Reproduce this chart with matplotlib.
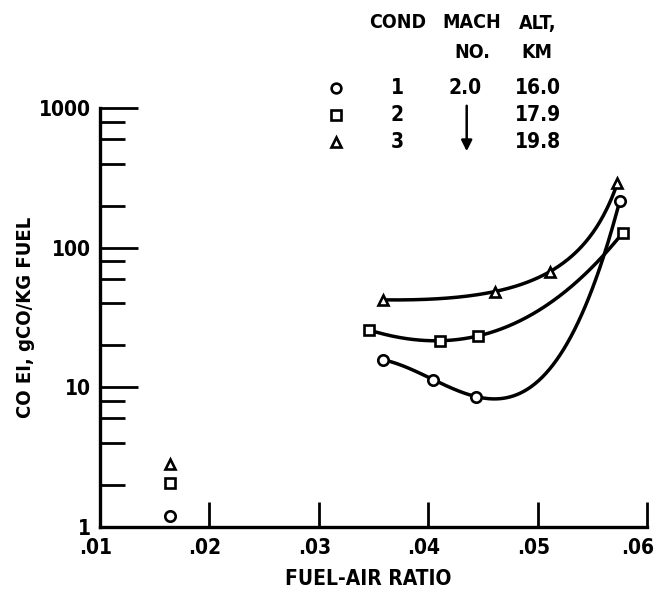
import numpy as np
import matplotlib
matplotlib.use("Agg")
import matplotlib.pyplot as plt
from matplotlib.transforms import ScaledTranslation
from matplotlib.ticker import FixedLocator, FixedFormatter

plt.rcParams['font.family'] = ['DejaVu Sans']
plt.rcParams['font.weight'] = 'bold'
plt.rcParams['font.stretch'] = 'condensed'
plt.rcParams['axes.labelweight'] = 'bold'

# fuel-air ratio and CO EI for each condition
far_1 = [0.0359, 0.0405, 0.0444, 0.0575]
co_1 = [15.7, 11.3, 8.55, 214]
far_2 = [0.0346, 0.0411, 0.0446, 0.0578]
co_2 = [25.7, 21.5, 23.3, 128]
far_3 = [0.0359, 0.0461, 0.0511, 0.0573]
co_3 = [42.2, 48.4, 67, 290]

# lone low fuel-air points
far_low = [0.0164, 0.0164, 0.0164]
co_low = [1.19, 2.07, 2.81]

cond = ['1', '2', '3']
mach = ['2.0']
alt = ['16.0', '17.9', '19.8']
markers = ['o', 's', '^']

x_ticks = [0.01, 0.02, 0.03, 0.04, 0.05, 0.06]
x_labels = ['.01', '.02', '.03', '.04', '.05', '.06']
y_ticks = [1, 10, 100, 1000]
y_labels = ['1', '10', '100', '1000']
y_minor = [2, 4, 6, 8, 20, 40, 60, 80, 200, 400, 600, 800]

W, H = 656, 589
fig = plt.figure(figsize=(W / 100, H / 100), dpi=100)
ax = fig.add_axes([99.5 / W, 1 - 526.7 / H, (647 - 99.5) / W, (526.7 - 108) / H])

mk = dict(mfc='white', mec='black', mew=1.9, ms=7.5, color='black')

# the 3rd curve is faired against a stretched x so it stays smooth
stretch = [False, False, True]

for far, co, m, st in zip([far_1, far_2, far_3], [co_1, co_2, co_3], markers, stretch):
    far = np.array(far)
    xx = np.linspace(far[0], far[-1], 200)
    if st:
        u, uu = -np.log(0.061 - far), -np.log(0.061 - xx)
    else:
        u, uu = far, xx
    c = np.polyfit(u, np.log10(co), 3)
    ax.plot(xx, 10 ** np.polyval(c, uu), color='black', lw=2.5, zorder=2)
    ax.plot(far, co, ls='none', marker=m, zorder=3, **mk)

for x, y, m in zip(far_low, co_low, markers):
    ax.plot([x], [y], ls='none', marker=m, zorder=3, clip_on=False, **mk)

ax.set_yscale('log')
ax.set_xlim(0.01, 0.06)
ax.set_ylim(1, 1000)

ax.xaxis.set_major_locator(FixedLocator(x_ticks))
ax.xaxis.set_major_formatter(FixedFormatter(x_labels))
ax.yaxis.set_major_locator(FixedLocator(y_ticks))
ax.yaxis.set_major_formatter(FixedFormatter(y_labels))
ax.yaxis.set_minor_locator(FixedLocator(y_minor))
ax.yaxis.set_minor_formatter(FixedFormatter([]))
ax.xaxis.set_minor_locator(FixedLocator([]))

ax.tick_params(axis='y', which='major', direction='in', length=27, width=2,
               labelsize=15, pad=6)
ax.tick_params(axis='y', which='minor', direction='in', length=18, width=2)
ax.tick_params(axis='x', which='major', direction='in', length=18, width=2,
               labelsize=15, pad=8)

for s in ['top', 'right']:
    ax.spines[s].set_visible(False)
for s in ['left', 'bottom']:
    ax.spines[s].set_linewidth(2.4)

ax.set_xlabel('FUEL-AIR RATIO', fontsize=15, va='center')
ax.xaxis.set_label_coords(0.49, -0.125)
ax.set_ylabel('CO EI, gCO/KG FUEL', fontsize=14.5, va='center')
ax.yaxis.set_label_coords(-0.136, 0.5)

# x tick labels sit a little left of their ticks
for i, tk in enumerate(ax.xaxis.get_major_ticks()):
    dx = -0.09 if i == len(x_ticks) - 1 else -0.04
    tk.label1.set_transform(tk.label1.get_transform() +
                            ScaledTranslation(dx, 0, fig.dpi_scale_trans))


def fx(px):
    return px / W


def fy(py):
    return 1 - py / H


# legend table
hdr = dict(fontsize=14, ha='center', va='center')
fig.text(fx(398), fy(23), 'COND', **hdr)
fig.text(fx(472), fy(23), 'MACH', **hdr)
fig.text(fx(538), fy(23), 'ALT,', **hdr)
fig.text(fx(472), fy(52), 'NO.', **hdr)
fig.text(fx(537), fy(52), 'KM', **hdr)

rows_y = [88, 115, 142]
for i, (py, m) in enumerate(zip(rows_y, markers)):
    fig.lines.append(plt.Line2D([fx(336)], [fy(py)], transform=fig.transFigure,
                                marker=m, ls='none', mfc='white', mec='black',
                                mew=1.9, ms=7))
    fig.text(fx(397), fy(py), cond[i], fontsize=15, ha='center', va='center')
    fig.text(fx(538), fy(py), alt[i], fontsize=15, ha='center', va='center')
fig.text(fx(465), fy(rows_y[0]), mach[0], fontsize=15, ha='center', va='center')
ax.annotate('', xy=(fx(466.7), fy(154)), xytext=(fx(466.7), fy(103)),
            xycoords='figure fraction', textcoords='figure fraction',
            arrowprops=dict(arrowstyle='-|>', color='black', lw=1.8,
                            mutation_scale=16))

fig.savefig('out.png', dpi=100)
